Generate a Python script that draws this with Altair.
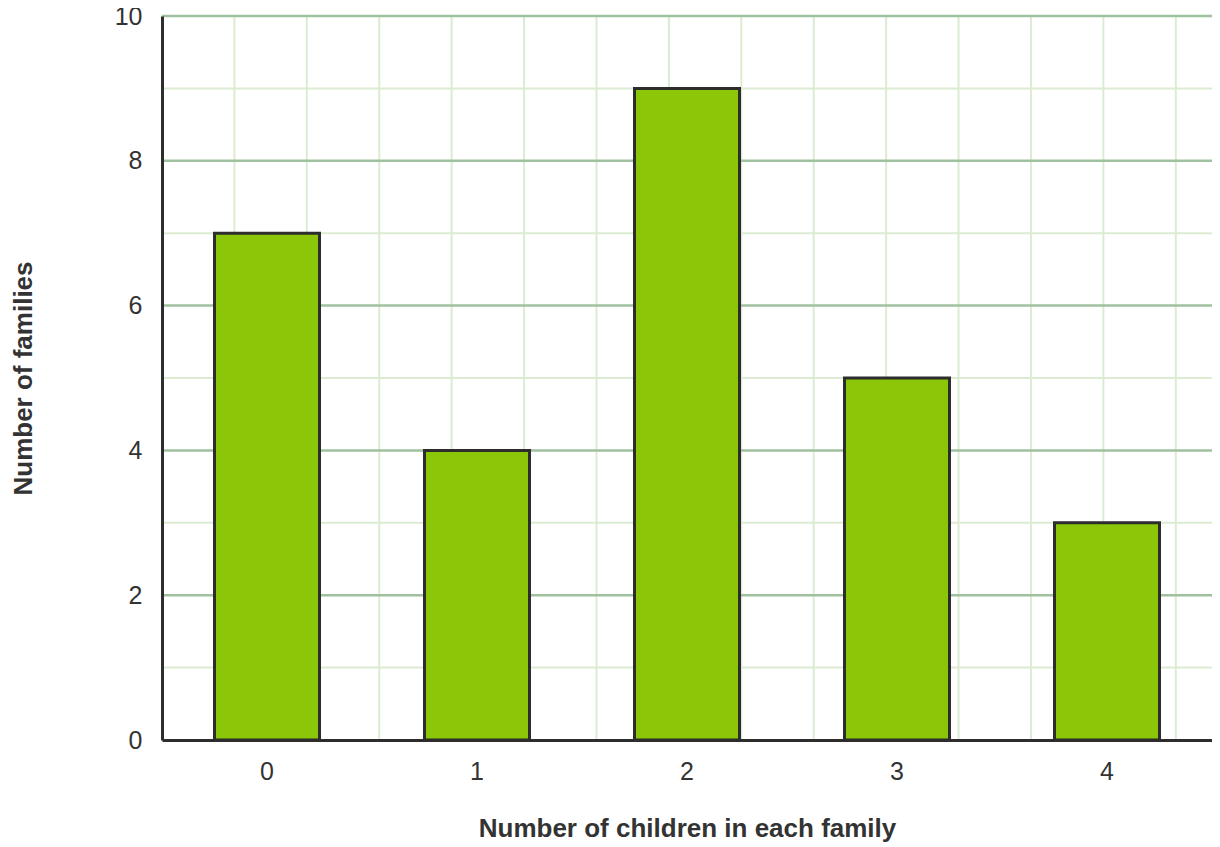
import altair as alt
import pandas as pd

children = ["0", "1", "2", "3", "4"]
families = [7, 4, 9, 5, 3]
y_major = [2, 4, 6, 8, 10]
y_minor = [1, 3, 5, 7, 9]
x_grid = list(range(1, 15))
y_labels = [0, 2, 4, 6, 8, 10]

FONT = "Liberation Sans"
df = pd.DataFrame({"children": children, "families": families})
df_major = pd.DataFrame({"families": y_major})
df_minor = pd.DataFrame({"families": y_minor})
df_xg = pd.DataFrame({"g": x_grid})

yscale = alt.Scale(domain=[0, 10], nice=False, zero=True)
yaxis = alt.Axis(
    title="Number of families",
    values=y_labels,
    labelFont=FONT,
    labelFontSize=25,
    labelColor="#333333",
    labelPadding=20,
    ticks=False,
    tickSize=0,
    domainColor="#2d2d2d",
    domainWidth=3,
    grid=False,
    titleFont=FONT,
    titleFontSize=26,
    titleFontWeight="bold",
    titleColor="#333333",
    titleAngle=270,
    titleX=-139,
    titleY=362,
    titleAlign="center",
    titleBaseline="middle",
    zindex=1,
)
yenc = alt.Y("families:Q", scale=yscale, axis=yaxis)

vgrid = alt.Chart(df_xg).mark_rule(color="#dcecd2", strokeWidth=2).encode(
    x=alt.X("g:Q", scale=alt.Scale(domain=[0, 14.5], nice=False, zero=True), axis=None)
)
minor = alt.Chart(df_minor).mark_rule(color="#dcecd2", strokeWidth=2).encode(y=yenc)
major = alt.Chart(df_major).mark_rule(color="#9fc19f", strokeWidth=2.5).encode(y=yenc)
bars = alt.Chart(df).mark_bar(color="#8bc708", stroke="#2d2d2d", strokeWidth=3).encode(
    x=alt.X(
        "children:N",
        sort=children,
        scale=alt.Scale(paddingInner=0.5, paddingOuter=0.25),
        axis=alt.Axis(
            orient="bottom",
            title="Number of children in each family",
            labelAngle=0,
            labelFont=FONT,
            labelFontSize=25,
            labelColor="#333333",
            labelPadding=19,
            ticks=False,
            tickSize=0,
            domainColor="#2d2d2d",
            domainWidth=3,
            grid=False,
            titleFont=FONT,
            titleFontSize=26,
            titleFontWeight="bold",
            titleColor="#333333",
            titleY=88,
            titleBaseline="middle",
            zindex=1,
        ),
    ),
    y=yenc,
)

chart = (
    alt.layer(vgrid, minor, major, bars)
    .resolve_scale(x="independent")
    .properties(
        width=1050,
        height=724,
        autosize=alt.AutoSizeParams(type="none"),
        padding={"left": 154, "top": 8, "right": 0, "bottom": 105},
    )
    .configure_view(stroke=None)
)

chart.save("out.html", embed_options={"renderer": "svg", "actions": False})
